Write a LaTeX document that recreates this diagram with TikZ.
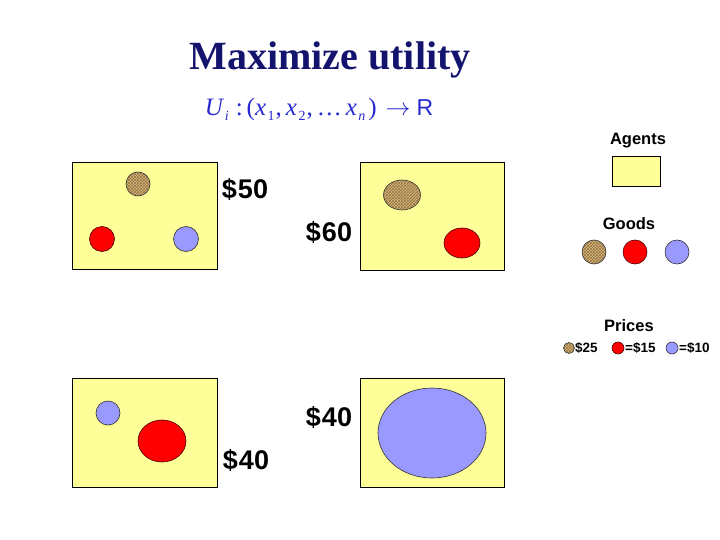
\documentclass[tikz,border=0pt]{standalone}
\usepackage{fontspec}
\setmainfont{Liberation Serif}
\newfontfamily\arialf{Liberation Sans}
\usetikzlibrary{patterns,shapes.geometric}
\definecolor{agentyellow}{RGB}{255,255,153}
\definecolor{goodred}{RGB}{255,0,0}
\definecolor{goodblue}{RGB}{153,153,255}
\definecolor{goodtan}{RGB}{214,186,128}
\definecolor{tanline}{RGB}{150,115,65}
\definecolor{titlenavy}{RGB}{20,20,110}
\definecolor{formulablue}{RGB}{40,40,210}
\newcommand{\lowsub}[1]{\raisebox{-0.45ex}{\upshape\fontsize{14}{15}\selectfont #1}}
\tikzset{
  agentbox/.style={draw=black, line width=0.8pt, fill=agentyellow},
  redgood/.style={draw=black!70!red, line width=0.6pt, fill=goodred},
  bluegood/.style={draw=black!80, line width=0.6pt, fill=goodblue},
  tangood/.style={draw=black!80, line width=0.6pt, preaction={fill=goodtan}, pattern=crosshatch, pattern color=tanline},
  money/.style={font=\arialf\bfseries\fontsize{27}{30}\selectfont},
  legendlabel/.style={font=\arialf\bfseries\fontsize{16.5}{18}\selectfont},
  pricelabel/.style={font=\arialf\bfseries\fontsize{13.5}{15}\selectfont, inner sep=0pt}
}
\begin{document}
\begin{tikzpicture}[x=1pt,y=-1pt]
\useasboundingbox (0,0) rectangle (720,540);
% title
\node[font=\bfseries\fontsize{40}{44}\selectfont, text=titlenavy] (title) at (330,60) {Maximize utility};
\node[font=\fontsize{25}{27}\selectfont, text=formulablue, inner sep=0pt] (formula) at (319,109)
  {\itshape U\kern2pt\lowsub{\itshape i}\kern7pt\upshape:\kern4pt(\itshape x\kern1.5pt\lowsub{1}\upshape\kern1pt,\kern4pt\itshape x\kern1.5pt\lowsub{2}\upshape\kern1pt,\kern4pt…\kern4pt\itshape x\kern1.5pt\lowsub{\itshape n}\upshape\kern3pt)\kern9pt$\rightarrow$\kern6pt{\arialf\fontsize{23}{25}\selectfont R}};
% agent 1
\node[agentbox, minimum width=145pt, minimum height=107pt, inner sep=0pt] (a1) at (144.5,215.5) {};
\node[tangood, circle, minimum size=24pt, inner sep=0pt] (a1t) at (138,184) {};
\node[redgood, circle, minimum size=25pt, inner sep=0pt] (a1r) at (102,239) {};
\node[bluegood, circle, minimum size=25pt, inner sep=0pt] (a1b) at (186,239) {};
\node[money] (m1) at (245,189) {\$\kern1pt50};
% agent 2
\node[agentbox, minimum width=144pt, minimum height=108pt, inner sep=0pt] (a2) at (432,216) {};
\node[tangood, ellipse, minimum width=37pt, minimum height=30pt, inner sep=0pt] (a2t) at (402,195) {};
\node[redgood, ellipse, minimum width=36pt, minimum height=30pt, inner sep=0pt] (a2r) at (462,243) {};
\node[money] (m2) at (329,232) {\$\kern1pt60};
% agent 3
\node[agentbox, minimum width=145pt, minimum height=109pt, inner sep=0pt] (a3) at (144.5,432.5) {};
\node[bluegood, circle, minimum size=24pt, inner sep=0pt] (a3b) at (108,413) {};
\node[redgood, ellipse, minimum width=48pt, minimum height=42pt, inner sep=0pt] (a3r) at (162,441) {};
\node[money] (m3) at (246,460) {\$\kern1pt40};
% agent 4
\node[agentbox, minimum width=144pt, minimum height=109pt, inner sep=0pt] (a4) at (432,432.5) {};
\node[bluegood, ellipse, minimum width=108pt, minimum height=90pt, inner sep=0pt] (a4b) at (432,433) {};
\node[money] (m4) at (329,417) {\$\kern1pt40};
% legend
\node[legendlabel] (agents) at (638,141) {Agents};
\node[agentbox, minimum width=48pt, minimum height=30pt, inner sep=0pt] (legagent) at (636,171) {};
\node[legendlabel] (goods) at (629,224) {Goods};
\node[tangood, circle, minimum size=24pt, inner sep=0pt] (lgt) at (594,252) {};
\node[redgood, circle, minimum size=24pt, inner sep=0pt] (lgr) at (635,252) {};
\node[bluegood, circle, minimum size=24pt, inner sep=0pt] (lgb) at (677,252) {};
\node[legendlabel] (prices) at (629,326) {Prices};
\node[tangood, circle, minimum size=11pt, inner sep=0pt] (lpt) at (569,348) {};
\node[pricelabel, anchor=west] (p25) at (575,348) {\$25};
\node[redgood, circle, minimum size=12pt, inner sep=0pt] (lpr) at (618,348) {};
\node[pricelabel, anchor=west] (p15) at (625,348) {=\$15};
\node[bluegood, circle, minimum size=12pt, inner sep=0pt] (lpb) at (672,348) {};
\node[pricelabel, anchor=west] (p10) at (679,348) {=\$10};
\end{tikzpicture}
\end{document}
